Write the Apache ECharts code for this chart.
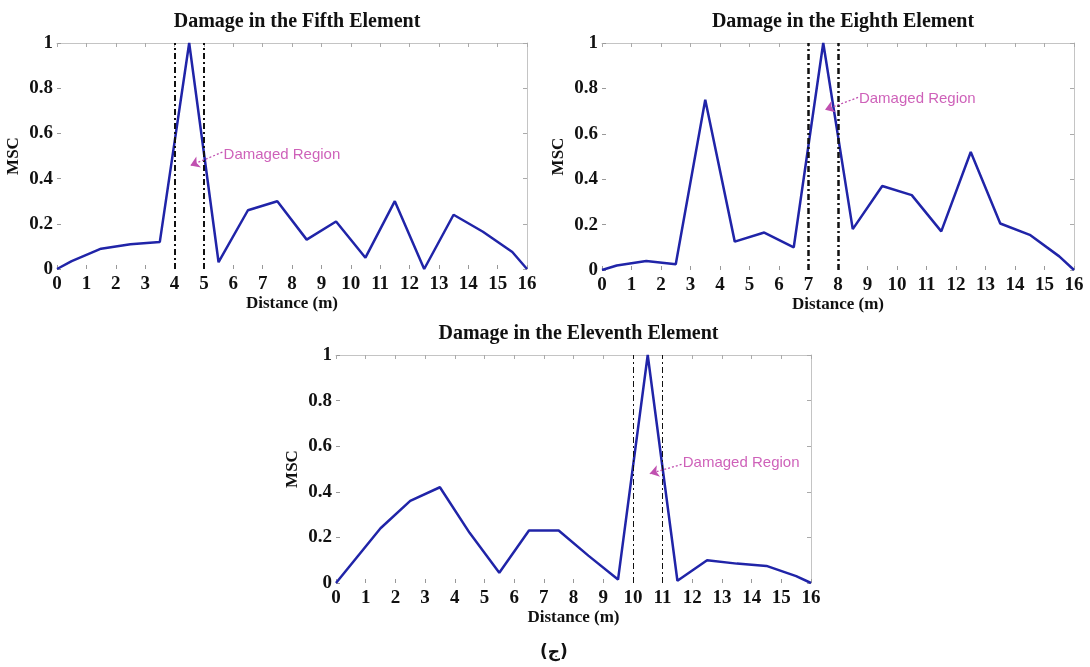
<!DOCTYPE html>
<html>
<head>
<meta charset="utf-8">
<script src="https://cdn.jsdelivr.net/npm/echarts@6/dist/echarts.min.js"></script>
<style>
html,body{margin:0;padding:0;background:#fff;}
#main{width:1090px;height:667px;}
</style>
</head>
<body>
<div id="main"></div>
<script>
// ---- data ----
const distance = [0, 0.5, 1.5, 2.5, 3.5, 4.5, 5.5, 6.5, 7.5, 8.5, 9.5, 10.5, 11.5, 12.5, 13.5, 14.5, 15.5, 16];
const mscFifth    = [0, 0.035, 0.09, 0.11, 0.12, 1.0, 0.03, 0.26, 0.30, 0.13, 0.21, 0.05, 0.30, 0.0, 0.24, 0.165, 0.075, 0];
const mscEighth   = [0, 0.02, 0.04, 0.025, 0.75, 0.125, 0.165, 0.10, 1.0, 0.18, 0.37, 0.33, 0.17, 0.52, 0.205, 0.155, 0.06, 0];
const mscEleventh = [0, 0.08, 0.24, 0.36, 0.42, 0.22, 0.045, 0.23, 0.23, 0.12, 0.015, 1.0, 0.01, 0.10, 0.085, 0.075, 0.03, 0];
const titles = ['Damage in the Fifth Element', 'Damage in the Eighth Element', 'Damage in the Eleventh Element'];
const damagedRegions = [[4, 5], [7, 8], [10, 11]];
const xTicks = [0, 16, 1];
const yTicks = [0, 1, 0.2];
const annotationText = 'Damaged Region';
const xName = 'Distance (m)';
const yName = 'MSC';
const caption = '(ج)';

// ---- layout / style ----
const grids = [
  {left: 57, top: 43, width: 470, height: 226},
  {left: 602, top: 43, width: 472, height: 227},
  {left: 336, top: 355, width: 475, height: 228}
];
const annot = [
  {text: [5.67, 0.507], from: [5.63, 0.517], to: [4.54, 0.458]},
  {text: [8.71, 0.755], from: [8.68, 0.76], to: [7.56, 0.706]},
  {text: [11.68, 0.528], from: [11.64, 0.52], to: [10.57, 0.48]}
];
const regionWidth = [2, 2.5, 1];
const seriesData = [mscFifth, mscEighth, mscEleventh];
const serif = '"Liberation Serif", "DejaVu Serif", serif';
const lineColor = '#2024a8';
const magenta = '#c23aa8';

const xAxes = [], yAxes = [], series = [], titleArr = [];
grids.forEach((g, i) => {
  titleArr.push({
    text: titles[i], left: g.left + g.width / 2, top: g.top - 36, textAlign: 'center',
    textStyle: {fontFamily: serif, fontWeight: 'bold', fontSize: 20, color: '#111'}
  });
  xAxes.push({
    gridIndex: i, type: 'value', min: xTicks[0], max: xTicks[1], interval: xTicks[2],
    axisLine: {show: false, onZero: false},
    axisTick: {show: true, inside: true, length: 4, lineStyle: {color: '#999'}},
    splitLine: {show: false},
    axisLabel: {fontFamily: serif, fontWeight: 'bold', fontSize: 19, color: '#111', margin: 6},
    name: xName, nameLocation: 'middle', nameGap: 22,
    nameTextStyle: {fontFamily: serif, fontWeight: 'bold', fontSize: 17, color: '#111'}
  });
  xAxes.push({
    gridIndex: i, type: 'value', position: 'top', min: xTicks[0], max: xTicks[1], interval: xTicks[2],
    axisLine: {show: true, onZero: false, lineStyle: {color: '#c4c4c4', width: 1}},
    axisTick: {show: true, inside: true, length: 4, lineStyle: {color: '#aaa'}},
    splitLine: {show: false}, axisLabel: {show: false}
  });
  yAxes.push({
    gridIndex: i, type: 'value', min: yTicks[0], max: yTicks[1], interval: yTicks[2],
    axisLine: {show: false, onZero: false},
    axisTick: {show: true, inside: true, length: 4, lineStyle: {color: '#999'}},
    splitLine: {show: false},
    axisLabel: {
      fontFamily: serif, fontWeight: 'bold', fontSize: 19, color: '#111', margin: 4,
      formatter: v => (v === 0 || v === 1) ? String(v) : v.toFixed(1)
    },
    name: yName, nameLocation: 'middle', nameGap: 35, nameRotate: 90,
    nameTextStyle: {fontFamily: serif, fontWeight: 'bold', fontSize: 17, color: '#111'}
  });
  yAxes.push({
    gridIndex: i, type: 'value', position: 'right', min: yTicks[0], max: yTicks[1], interval: yTicks[2],
    axisLine: {show: true, onZero: false, lineStyle: {color: '#c4c4c4', width: 1}},
    axisTick: {show: true, inside: true, length: 4, lineStyle: {color: '#aaa'}},
    splitLine: {show: false}, axisLabel: {show: false}
  });
  series.push({
    type: 'line', xAxisIndex: 2 * i, yAxisIndex: 2 * i,
    data: distance.map((d, k) => [d, seriesData[i][k]]),
    showSymbol: false, symbol: 'none', silent: true, z: 3,
    lineStyle: {color: lineColor, width: 2.5},
    markLine: {
      silent: true, symbol: 'none', animation: false,
      label: {show: false},
      lineStyle: {color: '#111', width: regionWidth[i], type: [6, 3, 2, 3]},
      data: damagedRegions[i].map(v => ({xAxis: v}))
    }
  });
  series.push({
    type: 'scatter', xAxisIndex: 2 * i, yAxisIndex: 2 * i,
    data: [annot[i].text], symbolSize: 0, silent: true, z: 5,
    label: {
      show: true, position: 'right', distance: 0, formatter: annotationText,
      fontFamily: '"Liberation Sans", Arial, sans-serif', fontSize: 15, color: magenta
    },
    markLine: {
      silent: true, animation: false, symbol: ['none', 'arrow'], symbolSize: 9,
      label: {show: false}, z: 6,
      itemStyle: {color: '#c050b0'},
      lineStyle: {color: '#c050b0', width: 1.3, type: [2, 2]},
      data: [[{coord: annot[i].from}, {coord: annot[i].to}]]
    }
  });
});

const chart = echarts.init(document.getElementById('main'), null, {renderer: 'canvas'});
chart.setOption({
  animation: false,
  backgroundColor: '#fff',
  title: titleArr,
  grid: grids,
  xAxis: xAxes,
  yAxis: yAxes,
  series: series,
  graphic: [{
    type: 'text', left: 540, top: 644,
    style: {text: caption, font: 'bold 17px "DejaVu Sans", "Noto Sans", sans-serif', fill: '#111'}
  }]
});
</script>
</body>
</html>
